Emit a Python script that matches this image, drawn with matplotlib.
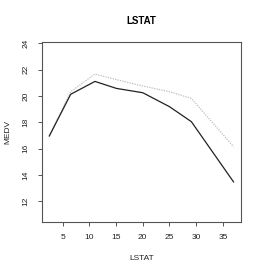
import matplotlib
matplotlib.use('Agg')
import matplotlib.pyplot as plt

lstat = [2.5, 6.5, 11.05, 15.05, 20.0, 25.0, 29.1, 37.0]
medv_solid = [16.96, 20.13, 21.11, 20.58, 20.25, 19.19, 18.05, 13.47]
medv_dotted = [16.96, 20.33, 21.67, 21.25, 20.76, 20.33, 19.82, 16.15]

xticks = [5, 10, 15, 20, 25, 30, 35]
yticks = [12, 14, 16, 18, 20, 22, 24]

plt.rcParams['font.family'] = ['Liberation Sans', 'DejaVu Sans']

fig = plt.figure(figsize=(2.62, 2.75), dpi=100)
ax = fig.add_axes([0.160, 0.193, 0.760, 0.654])

ax.plot(lstat, medv_dotted, c='#bdbdbd', linestyle=(0, (1, 1)), linewidth=0.9)
ax.plot(lstat, medv_solid, c='#222222', linestyle='-', linewidth=0.9)

ax.set_xlim(1.12, 38.4)
ax.set_ylim(10.43, 24.1)
ax.set_xticks(xticks)
ax.set_yticks(yticks)
ax.set_yticklabels([str(t) for t in yticks], rotation=90, va='center')
ax.tick_params(labelsize=6, length=3, width=0.7, color='#555555', labelcolor='#222222')
ax.tick_params(axis='x', pad=5.5)
ax.tick_params(axis='y', pad=6)

for s in ax.spines.values():
    s.set_color('#555555')
    s.set_linewidth(0.8)

ax.set_xlabel('LSTAT', fontsize=6, labelpad=10, color='#222222')
ax.set_ylabel('MEDV', fontsize=6, labelpad=8, color='#222222')
ax.set_title('LSTAT', fontsize=7, fontweight='bold', pad=13)

fig.savefig('out.png', dpi=100)
